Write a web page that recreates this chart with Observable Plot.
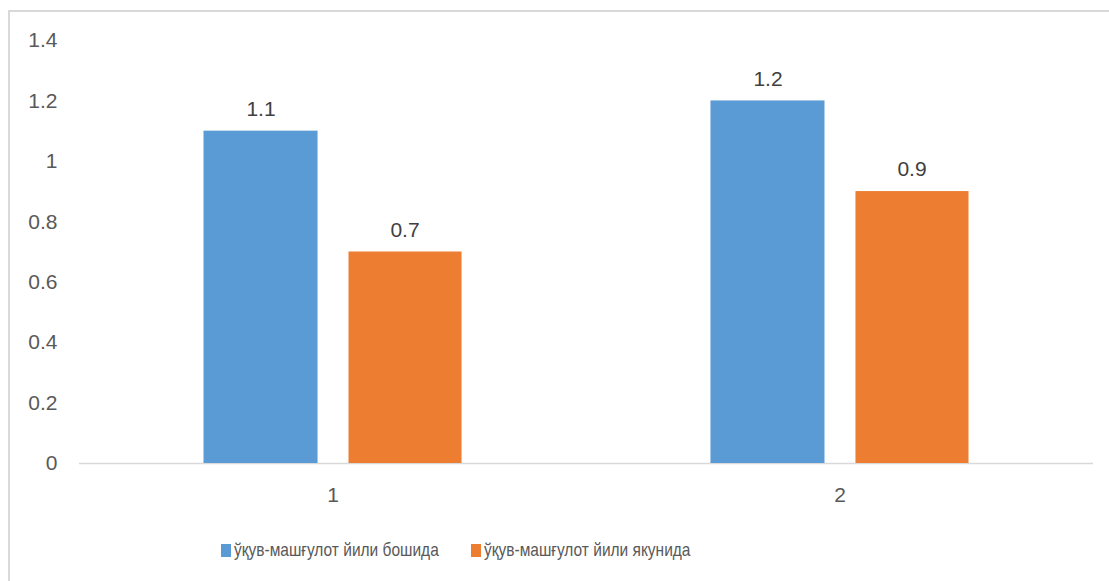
<!DOCTYPE html>
<html>
<head>
<meta charset="utf-8">
<script src="https://cdn.jsdelivr.net/npm/d3@7"></script>
<script src="https://cdn.jsdelivr.net/npm/@observablehq/plot@0.6"></script>
<style>
  html, body { margin: 0; padding: 0; background: #fff; overflow: hidden; width: 1109px; height: 581px; }
  #frame { position: absolute; left: 8px; top: 10px; width: 1300px; height: 800px;
           border-left: 2px solid #d9d9d9; border-top: 2px solid #d9d9d9; }
  #chart { position: absolute; left: 0; top: 0; }
  .legend { position: absolute; top: 539px; font-family: "Liberation Sans", Arial, sans-serif;
            font-size: 19px; color: #595959; white-space: nowrap; display: flex; align-items: center; }
  .sw { display: inline-block; width: 10px; height: 13px; margin-right: 3px; }
  .lt { display: inline-block; transform: scaleX(0.815); transform-origin: left center; }
</style>
</head>
<body>
<div id="frame"></div>
<div id="chart"></div>
<div id="legend"></div>
<script>
const categories = ["1", "2"];
const seriesNames = ["ўқув-машғулот йили бошида", "ўқув-машғулот йили якунида"];
const startValues = [1.1, 1.2];
const endValues = [0.7, 0.9];
const yTicks = [0, 0.2, 0.4, 0.6, 0.8, 1, 1.2, 1.4];
const colors = ["#5B9BD5", "#ED7D31"];

const startData = categories.map((c, i) => ({cat: c, value: startValues[i], series: seriesNames[0]}));
const endData = categories.map((c, i) => ({cat: c, value: endValues[i], series: seriesNames[1]}));

const chart = Plot.plot({
  width: 1109,
  height: 520,
  marginLeft: 79,
  marginRight: 16,
  marginTop: 40,
  marginBottom: 57,
  style: {background: "none", fontSize: "21px", fontFamily: "'Liberation Sans', Arial, sans-serif", color: "#595959"},
  x: {domain: categories, paddingInner: 0.491, paddingOuter: 0.2456, round: false,
      tickSize: 0, tickPadding: 24, label: null},
  y: {domain: [0, 1.4], ticks: yTicks, tickFormat: d => String(d), tickSize: 0, tickPadding: 22, label: null},
  marks: [
    Plot.ruleY([0], {stroke: "#d9d9d9", strokeWidth: 1.5}),
    Plot.barY(startData, {x: "cat", y: "value", fill: colors[0], insetRight: 144}),
    Plot.barY(endData, {x: "cat", y: "value", fill: colors[1], insetLeft: 145}),
    Plot.text(startData, {x: "cat", y: "value", text: d => String(d.value), dx: -72, dy: -22, fill: "#404040", fontSize: 21}),
    Plot.text(endData, {x: "cat", y: "value", text: d => String(d.value), dx: 72, dy: -22, fill: "#404040", fontSize: 21})
  ]
});
document.getElementById("chart").appendChild(chart);

const legend = document.getElementById("legend");
const lefts = [221, 471];
seriesNames.forEach((name, i) => {
  const item = document.createElement("div");
  item.className = "legend";
  item.style.left = lefts[i] + "px";
  const sw = document.createElement("span");
  sw.className = "sw";
  sw.style.background = colors[i];
  const t = document.createElement("span");
  t.className = "lt";
  t.textContent = name;
  item.appendChild(sw);
  item.appendChild(t);
  legend.appendChild(item);
});
</script>
</body>
</html>
